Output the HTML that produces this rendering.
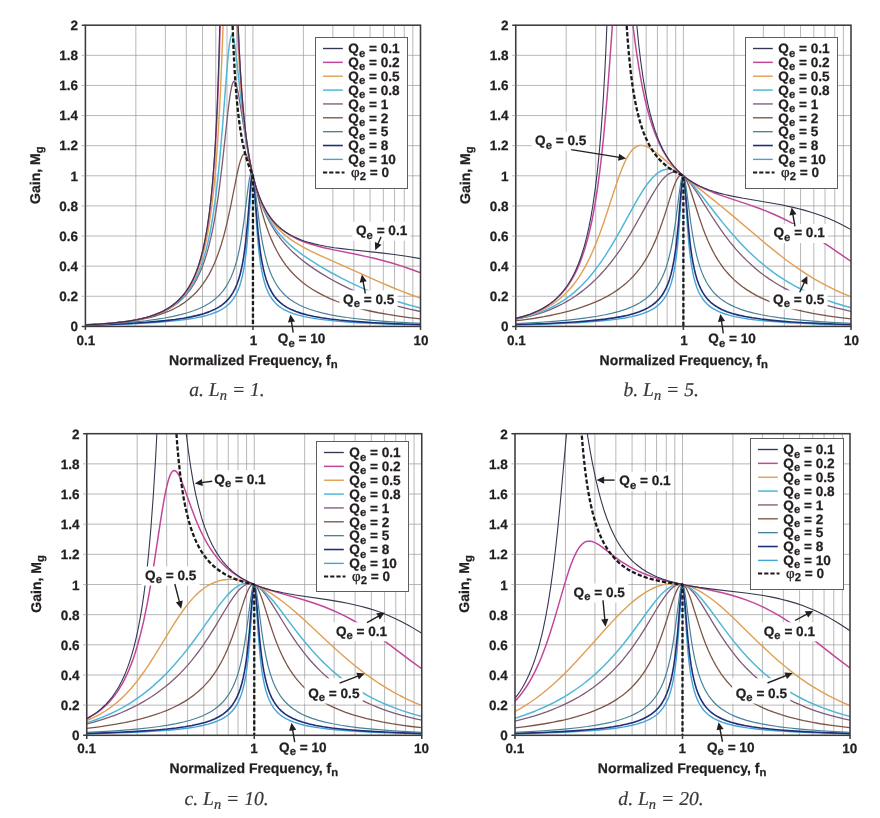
<!DOCTYPE html>
<html lang="en">
<head>
<meta charset="utf-8">
<title>LLC resonant converter gain curves</title>
<style>
html, body { margin: 0; padding: 0; background: #fff; }
body { width: 880px; height: 818px; overflow: hidden; }
svg { display: block; }
text { font-family: "Liberation Sans", Arial, Helvetica, sans-serif; fill: #231f20; text-rendering: geometricPrecision; }
.b { font-weight: bold; font-size: 13.6px; stroke: #231f20; stroke-width: 0.25px; }
.tk { font-size: 13.5px; }
.ti { font-size: 14px; }
.s { font-size: 11.3px; }
.phi { font-family: "Liberation Serif", "Times New Roman", serif; font-weight: normal; font-size: 15px; stroke-width: 0.35px; }
.cap { font-family: "Liberation Serif", "Times New Roman", serif; font-style: italic; font-size: 19.6px; fill: #383838; stroke: #383838; stroke-width: 0.2px; }
.cs { font-size: 14.5px; }
</style>
</head>
<body>
<svg width="880" height="818" viewBox="0 0 880 818">
<rect width="880" height="818" fill="#fff"/>
<g id="plot-a">
<clipPath id="clip-a"><rect x="85.4" y="25.2" width="335.1" height="301.2"/></clipPath>
<path d="M85.4 296.28H420.5M85.4 266.16H420.5M85.4 236.04H420.5M85.4 205.92H420.5M85.4 175.8H420.5M85.4 145.68H420.5M85.4 115.56H420.5M85.4 85.44H420.5M85.4 55.32H420.5M135.84 25.2V326.4M165.34 25.2V326.4M186.28 25.2V326.4M202.51 25.2V326.4M215.78 25.2V326.4M227 25.2V326.4M236.71 25.2V326.4M245.28 25.2V326.4M252.95 25.2V326.4M303.39 25.2V326.4M332.89 25.2V326.4M353.83 25.2V326.4M370.06 25.2V326.4M383.33 25.2V326.4M394.55 25.2V326.4M404.26 25.2V326.4M412.83 25.2V326.4" stroke="#9a9a9a" stroke-width="0.7" fill="none"/>
<g clip-path="url(#clip-a)" fill="none" stroke-linejoin="round">
<path d="M85.4 325.32L102.63 324.87L118.43 324.33L133.27 323.7L146.68 322.98L158.64 322.18L169.18 321.31L178.75 320.32L187.37 319.22L194.55 318.07L201.25 316.74L206.99 315.31L212.26 313.66L217.05 311.77L220.88 309.87L222.79 308.75L224.71 307.48L226.62 306.04L228.06 304.81L229.49 303.44L230.93 301.9L233.32 298.86L235.56 295.29L237.47 291.48L239.18 287.24L240.79 282.27L242.19 276.84L243.5 270.58L244.51 264.7L245.41 258.38L246.32 250.86L247.12 242.94L248.64 224.13L251.24 184.53L251.94 177.36L252.25 175.7L252.55 175.05L252.65 175.06L252.85 175.44L253.15 176.85L253.85 183.56L256.57 224.6L257.37 235.12L258.18 244.16L258.98 251.88L259.89 259.21L260.79 265.37L261.8 271.11L263.1 277.24L264.51 282.56L266.12 287.44L267.93 291.83L269.94 295.72L272.1 299.05L274.49 302.03L277.36 304.88L278.8 306.08L280.72 307.5L282.63 308.74L284.55 309.85L288.37 311.71L293.16 313.58L298.43 315.19L304.17 316.6L310.87 317.91L318.53 319.11L327.15 320.17L336.73 321.12L347.26 321.95L359.22 322.71L372.63 323.38L386.99 323.95L420.5 324.88" stroke="#45a4d6" stroke-width="1.4"/>
<path d="M85.4 325.2L101.68 324.69L116.52 324.09L130.4 323.37L143.32 322.53L154.81 321.62L165.35 320.59L174.92 319.44L183.54 318.17L190.72 316.88L197.42 315.39L203.64 313.68L208.91 311.88L213.7 309.86L218 307.59L221.83 305.07L225.18 302.33L228.06 299.42L230.45 296.45L232.84 292.82L235.06 288.67L236.97 284.23L238.67 279.36L240.28 273.73L241.69 267.71L242.8 262.05L243.8 256.01L244.81 248.94L245.71 241.54L247.52 223.25L250.74 183.79L251.54 177.17L251.94 175.32L252.15 174.82L252.35 174.61L252.55 174.71L252.75 175.11L253.15 176.77L253.96 183.08L254.76 192.11L257.27 223.48L258.22 233.55L259.17 242.42L260.09 249.74L260.99 256L262 261.99L263.1 267.61L264.51 273.6L266.12 279.19L267.83 284.03L269.74 288.45L271.75 292.24L274.01 295.74L275.45 297.63L276.89 299.31L279.76 302.18L283.11 304.89L286.94 307.37L291.25 309.61L296.03 311.6L301.3 313.37L307.52 315.06L314.23 316.51L321.41 317.78L330.02 319.01L339.12 320.07L349.65 321.05L361.14 321.92L374.06 322.71L387.95 323.38L403.27 323.98L420.5 324.5" stroke="#1f2f78" stroke-width="1.6"/>
<path d="M85.4 325.03L99.28 324.46L112.21 323.76L124.18 322.91L135.19 321.93L145.72 320.78L155.77 319.44L164.87 317.97L173 316.4L180.66 314.63L187.37 312.78L193.59 310.73L199.33 308.46L204.12 306.19L208.91 303.48L213.22 300.52L217.05 297.34L220.4 293.98L223.27 290.55L226.14 286.44L228.54 282.35L230.93 277.46L232.84 272.82L234.65 267.68L236.36 261.98L237.87 256.13L239.38 249.34L240.79 242L242.09 234.21L244.1 220.19L247.82 189.91L249.23 179.97L249.83 176.75L250.44 174.38L250.94 173.17L251.24 172.8L251.51 172.7L251.84 172.88L252.15 173.33L252.75 175.02L253.35 177.66L254.06 181.74L255.26 190.49L258.98 220.37L260.29 229.58L261.6 237.75L262.8 244.42L264.01 250.34L265.32 255.99L266.62 260.96L268.33 266.6L270.24 271.96L272.25 276.74L274.49 281.23L276.89 285.28L279.76 289.34L282.63 292.73L285.98 296.04L289.81 299.18L294.12 302.09L298.91 304.76L303.69 306.98L308.96 309.02L315.18 311.04L321.88 312.85L329.54 314.56L337.68 316.07L346.78 317.48L356.83 318.77L367.36 319.89L378.85 320.9L391.78 321.84L405.66 322.65L420.5 323.36" stroke="#47829a" stroke-width="1.2"/>
<path d="M85.4 324.89L97.37 324.31L107.9 323.6L117.47 322.76L126.57 321.72L134.71 320.54L142.37 319.16L149.55 317.56L156.25 315.75L162.47 313.71L168.22 311.47L173.48 309.05L178.75 306.2L183.54 303.16L188.32 299.6L192.63 295.85L196.46 291.99L199.81 288.13L203.16 283.73L206.04 279.44L208.91 274.59L211.78 269.08L214.17 263.9L216.57 258.09L218.96 251.56L221.35 244.21L223.27 237.67L225.18 230.49L227.1 222.65L230.45 207.33L236.87 175.18L238.11 169.49L239.28 164.69L240.69 159.87L241.99 156.55L242.7 155.3L243.3 154.53L243.9 154.07L244.51 153.9L245.01 153.99L245.61 154.36L246.21 155.01L246.82 155.93L248.02 158.49L249.33 162.22L251.64 170.52L258.38 198.46L260.29 205.9L262.2 212.86L264.41 220.27L266.62 227.01L268.93 233.39L271.35 239.39L274.01 245.33L276.89 251.02L279.76 256.08L282.63 260.61L285.98 265.32L289.33 269.51L293.16 273.77L296.99 277.56L301.78 281.75L306.57 285.43L311.83 289.01L317.58 292.43L323.8 295.7L330.02 298.57L337.2 301.49L344.38 304.04L352.04 306.44L360.18 308.68L368.8 310.75L378.37 312.75L387.95 314.47L398.48 316.11L409.01 317.52L420.5 318.83" stroke="#7d5547" stroke-width="1.3"/>
<path d="M85.4 324.87L97.85 324.23L108.86 323.45L118.91 322.47L128.01 321.3L136.14 319.93L143.8 318.29L150.98 316.35L157.21 314.24L162.95 311.86L165.82 310.47L168.7 308.94L173.48 305.98L175.88 304.28L178.27 302.41L180.66 300.36L182.58 298.56L186.41 294.48L188.32 292.16L190.24 289.63L193.59 284.62L196.46 279.6L199.33 273.77L201.73 268.17L204.12 261.75L206.51 254.35L208.43 247.6L210.82 237.92L212.74 229.01L214.65 218.9L216.09 210.42L218 197.8L219.44 187.29L222.31 163.55L228.06 110.59L229.97 95.82L230.93 90.04L231.89 85.63L232.37 83.98L233.05 82.32L233.55 81.61L233.85 81.39L234.15 81.33L234.55 81.48L234.96 81.89L235.36 82.55L235.86 83.71L236.76 86.64L237.77 90.97L238.78 96.17L239.98 103.21L245.77 139.65L248.64 155.71L250.64 165.6L252.65 174.54L254.76 182.93L256.87 190.41L259.28 197.99L261.9 205.21L264.61 211.81L267.53 218.05L270.66 223.96L274.01 229.53L277.84 235.14L281.67 240.11L284.07 242.95L286.94 246.14L289.81 249.11L292.68 251.9L298.91 257.43L302.26 260.17L306.09 263.13L313.75 268.6L321.88 273.88L330.98 279.25L340.08 284.14L349.17 288.6L358.75 292.86L368.32 296.7L377.89 300.15L387.95 303.38L398.48 306.37L409.49 309.11L420.5 311.49" stroke="#7f5b79" stroke-width="1.3"/>
<path d="M85.4 324.87L98.8 324.17L110.29 323.31L120.82 322.23L129.92 320.97L138.54 319.41L146.2 317.61L150.03 316.52L153.38 315.45L159.6 313.11L162.95 311.61L165.82 310.18L168.7 308.58L171.09 307.1L173.48 305.49L175.88 303.7L178.27 301.74L180.66 299.56L183.06 297.14L184.97 295.01L186.89 292.68L188.8 290.12L192.15 285.03L194.07 281.69L195.5 278.96L198.38 272.78L201.25 265.48L203.64 258.31L206.04 249.94L207.95 242.18L209.87 233.27L211.78 223.01L213.7 211.12L215.61 197.29L217.05 185.45L218.48 172.19L219.92 157.42L222.31 129.41L226.62 73.24L227.58 61.87L228.54 51.94L229.49 43.96L230.45 38.38L230.93 36.58L231.41 35.46L231.89 35.03L232.37 35.27L232.84 36.15L233.35 37.72L234.15 41.47L234.96 46.5L236.76 61.05L241.69 106.24L244.2 126.49L245.91 138.56L247.62 149.31L249.43 159.4L251.34 168.78L253.55 178.25L255.82 186.67L258.28 194.56L260.89 201.82L263.71 208.58L266.72 214.84L270.04 220.8L273.53 226.25L275.45 228.94L277.84 232.05L280.24 234.93L283.11 238.12L285.98 241.06L288.85 243.79L291.73 246.35L295.08 249.15L298.43 251.78L302.26 254.62L310.4 260.19L319.97 266.16L330.5 272.23L341.51 278.13L353 283.84L364.49 289.09L375.5 293.68L386.51 297.83L397.52 301.54L409.01 304.96L420.5 307.96" stroke="#50b7d8" stroke-width="1.5"/>
<path d="M85.4 324.87L99.76 324.1L112.21 323.13L123.22 321.9L133.27 320.36L137.58 319.54L141.89 318.59L146.2 317.5L150.03 316.39L153.86 315.13L157.21 313.87L160.56 312.45L163.91 310.85L167.26 309.02L170.13 307.25L173 305.27L175.4 303.42L177.79 301.37L180.19 299.09L182.58 296.55L184.49 294.3L186.41 291.82L188.32 289.09L190.24 286.07L192.15 282.71L194.07 278.97L195.5 275.88L197.42 271.3L198.86 267.48L200.29 263.28L201.73 258.64L204.12 249.75L206.51 239.05L208.43 228.83L210.34 216.72L212.26 202.19L214.17 184.57L215.61 168.74L217.05 150.13L218 135.86L219.44 111.15L220.4 92.15L221.35 70.91L222.79 34.65L226.14 -62.51L226.62 -65.16L232.84 -65.16L236.46 15.29L237.87 41.89L239.28 64.84L240.89 87.08L242.6 106.8L244.51 125.02L246.52 140.8L248.33 152.66L250.24 163.29L252.35 173.25L254.56 182.08L256.97 190.24L259.58 197.71L262.4 204.52L265.52 210.88L268.75 216.46L272.25 221.6L275.93 226.2L277.84 228.33L280.24 230.79L282.63 233.04L285.02 235.12L289.81 238.85L295.08 242.43L301.3 246.15L305.61 248.49L309.92 250.69L320.45 255.69L379.81 282.1L391.3 287.01L401.35 291.11L410.93 294.77L420.5 298.17" stroke="#e09f52" stroke-width="1.4"/>
<path d="M85.4 324.86L99.76 324.1L112.21 323.12L123.22 321.89L128.48 321.14L133.27 320.34L137.58 319.51L141.89 318.55L146.2 317.45L150.03 316.32L153.86 315.04L157.21 313.76L160.56 312.32L163.43 310.92L166.78 309.09L169.65 307.31L172.53 305.31L174.92 303.44L177.31 301.37L179.71 299.05L182.1 296.46L184.02 294.16L185.93 291.62L187.84 288.81L189.76 285.7L191.67 282.22L193.59 278.33L195.03 275.09L196.46 271.54L197.9 267.63L199.33 263.31L200.77 258.51L203.16 249.23L205.56 237.91L207.47 226.92L209.39 213.65L211.3 197.33L212.74 182.44L214.17 164.51L215.61 142.57L216.57 125.03L217.53 104.46L218.48 80.06L219.44 50.72L220.4 14.88L221.83 -56.18L222.31 -65.16L235.16 -65.16L236.26 -25.35L237.15 2.24L238.17 28.53L239.28 52.13L240.5 73.75L241.89 93.88L243.38 111.55L245.01 127.54L246.82 142.09L248.83 155.33L251.04 167.23L252.25 172.8L253.55 178.24L254.86 183.15L256.27 187.89L257.74 192.37L259.28 196.6L260.89 200.58L262.6 204.37L264.41 207.98L266.22 211.23L267.83 213.86L269.54 216.41L271.25 218.75L273.06 221.01L274.97 223.2L276.89 225.2L278.8 227.03L281.19 229.12L283.59 231.01L285.98 232.72L290.77 235.71L296.03 238.46L301.78 240.96L306.57 242.73L311.35 244.29L316.62 245.81L322.84 247.41L333.85 249.87L355.87 254.33L365.45 256.36L375.02 258.57L383.64 260.76L392.73 263.32L401.83 266.15L410.93 269.25L420.5 272.75" stroke="#c2479a" stroke-width="1.5"/>
<path d="M85.4 324.86L99.76 324.1L112.21 323.12L123.22 321.89L128.48 321.14L133.27 320.34L137.58 319.5L141.89 318.55L146.2 317.44L150.03 316.31L153.86 315.03L157.21 313.74L160.56 312.3L163.43 310.9L166.78 309.06L169.65 307.27L172.53 305.26L174.92 303.39L177.31 301.3L179.71 298.98L182.1 296.37L184.02 294.05L185.93 291.5L187.84 288.67L189.76 285.53L191.67 282.02L193.59 278.09L195.03 274.81L196.46 271.22L197.9 267.26L199.33 262.87L200.77 258L203.16 248.56L205.56 237.01L207.47 225.75L209.39 212.09L210.82 199.79L212.26 185.19L213.7 167.59L215.13 145.99L216.09 128.66L217.05 108.26L218 83.92L218.96 54.41L219.92 17.9L220.88 -28.33L221.35 -56.38L221.83 -65.16L235.36 -65.16L235.46 -64.03L236.36 -28.05L237.27 1.26L238.27 28.01L239.38 52.17L240.58 73.81L241.99 94.44L243.5 112.45L245.21 129.08L247.02 143.43L249.12 157.01L251.34 168.67L252.55 174.11L253.85 179.41L255.26 184.54L256.67 189.15L258.18 193.59L259.69 197.59L261.39 201.66L263.1 205.32L264.92 208.81L266.83 212.12L268.63 214.92L270.44 217.47L272.45 220.04L274.49 222.4L276.41 224.41L278.8 226.69L281.19 228.73L283.59 230.57L285.98 232.24L288.85 234.03L291.73 235.64L294.6 237.08L297.47 238.37L300.82 239.72L304.17 240.93L307.52 242L313.27 243.6L319.49 245.05L326.67 246.44L334.33 247.67L341.51 248.65L349.17 249.57L380.77 252.89L394.17 254.47L408.05 256.44L420.5 258.64" stroke="#34374f" stroke-width="1.1"/>
<path d="M231.38 -18.19L232.51 23L233.22 41.88L233.97 58.19L234.83 73.52L235.81 87.78L236.84 100.15L238 111.68L239.3 122.36L240.74 132.19L242.33 141.19L244.09 149.42L246 156.9L248.08 163.69L250.43 170.08L252.95 175.8L252.95 326.4" stroke="#1a1a1a" stroke-width="2.3" stroke-dasharray="4.2 2.1"/>
</g>
<rect x="352.4" y="221.7" width="58.1" height="19" fill="#fff"/>
<rect x="339.5" y="290.3" width="58.1" height="19" fill="#fff"/>
<rect x="274.2" y="329.9" width="54.1" height="19" fill="#fff"/>
<rect x="315.5" y="37.5" width="92" height="151" fill="#fff" stroke="#5e5e5e" stroke-width="1"/>
<line x1="323" y1="48.5" x2="342.8" y2="48.5" stroke="#34374f" stroke-width="1.35"/>
<text x="348.3" y="53.2" text-anchor="start" class="b">Q<tspan class="s" dy="3.4">e</tspan><tspan dy="-3.4"> = 0.1</tspan></text>
<line x1="323" y1="62.36" x2="342.8" y2="62.36" stroke="#c2479a" stroke-width="1.5"/>
<text x="348.3" y="67.06" text-anchor="start" class="b">Q<tspan class="s" dy="3.4">e</tspan><tspan dy="-3.4"> = 0.2</tspan></text>
<line x1="323" y1="76.22" x2="342.8" y2="76.22" stroke="#e09f52" stroke-width="1.4"/>
<text x="348.3" y="80.92" text-anchor="start" class="b">Q<tspan class="s" dy="3.4">e</tspan><tspan dy="-3.4"> = 0.5</tspan></text>
<line x1="323" y1="90.08" x2="342.8" y2="90.08" stroke="#50b7d8" stroke-width="1.5"/>
<text x="348.3" y="94.78" text-anchor="start" class="b">Q<tspan class="s" dy="3.4">e</tspan><tspan dy="-3.4"> = 0.8</tspan></text>
<line x1="323" y1="103.94" x2="342.8" y2="103.94" stroke="#7f5b79" stroke-width="1.35"/>
<text x="348.3" y="108.64" text-anchor="start" class="b">Q<tspan class="s" dy="3.4">e</tspan><tspan dy="-3.4"> = 1</tspan></text>
<line x1="323" y1="117.8" x2="342.8" y2="117.8" stroke="#7d5547" stroke-width="1.35"/>
<text x="348.3" y="122.5" text-anchor="start" class="b">Q<tspan class="s" dy="3.4">e</tspan><tspan dy="-3.4"> = 2</tspan></text>
<line x1="323" y1="131.66" x2="342.8" y2="131.66" stroke="#47829a" stroke-width="1.35"/>
<text x="348.3" y="136.36" text-anchor="start" class="b">Q<tspan class="s" dy="3.4">e</tspan><tspan dy="-3.4"> = 5</tspan></text>
<line x1="323" y1="145.52" x2="342.8" y2="145.52" stroke="#1f2f78" stroke-width="1.6"/>
<text x="348.3" y="150.22" text-anchor="start" class="b">Q<tspan class="s" dy="3.4">e</tspan><tspan dy="-3.4"> = 8</tspan></text>
<line x1="323" y1="159.38" x2="342.8" y2="159.38" stroke="#45a4d6" stroke-width="1.4"/>
<text x="348.3" y="164.08" text-anchor="start" class="b">Q<tspan class="s" dy="3.4">e</tspan><tspan dy="-3.4"> = 10</tspan></text>
<line x1="323" y1="172.44" x2="344.5" y2="172.44" stroke="#1a1a1a" stroke-width="2" stroke-dasharray="4.2 2"/>
<text x="351" y="176.84" class="b"><tspan class="phi">φ</tspan><tspan class="s" dy="3">2</tspan><tspan dy="-3"> = 0</tspan></text>
<rect x="85.4" y="25.2" width="335.1" height="301.2" fill="none" stroke="#3c3c3e" stroke-width="1.55"/>
<path d="M85.4 326.4V330M252.95 326.4V330M420.5 326.4V330M81.8 326.4H85.4M81.8 25.2H85.4" stroke="#3c3c3e" stroke-width="1.5" fill="none"/>
<path d="M81.8 296.28H85.4M81.8 266.16H85.4M81.8 236.04H85.4M81.8 205.92H85.4M81.8 175.8H85.4M81.8 145.68H85.4M81.8 115.56H85.4M81.8 85.44H85.4M81.8 55.32H85.4" stroke="#9a9a9a" stroke-width="0.7" fill="none"/>
<text x="78.1" y="331.1" text-anchor="end" class="b tk">0</text>
<text x="78.1" y="300.98" text-anchor="end" class="b tk">0.2</text>
<text x="78.1" y="270.86" text-anchor="end" class="b tk">0.4</text>
<text x="78.1" y="240.74" text-anchor="end" class="b tk">0.6</text>
<text x="78.1" y="210.62" text-anchor="end" class="b tk">0.8</text>
<text x="78.1" y="180.5" text-anchor="end" class="b tk">1</text>
<text x="78.1" y="150.38" text-anchor="end" class="b tk">1.2</text>
<text x="78.1" y="120.26" text-anchor="end" class="b tk">1.4</text>
<text x="78.1" y="90.14" text-anchor="end" class="b tk">1.6</text>
<text x="78.1" y="60.02" text-anchor="end" class="b tk">1.8</text>
<text x="78.1" y="29.9" text-anchor="end" class="b tk">2</text>
<text x="86" y="345.4" text-anchor="middle" class="b tk">0.1</text>
<text x="253.55" y="345.4" text-anchor="middle" class="b tk">1</text>
<text x="421.1" y="345.4" text-anchor="middle" class="b tk">10</text>
<text x="253.35" y="364.6" text-anchor="middle" class="b ti">Normalized Frequency, f<tspan class="s" dy="3">n</tspan></text>
<text transform="translate(39.8 175.2) rotate(-90)" text-anchor="middle" class="b ti">Gain, M<tspan class="s" dy="3">g</tspan></text>
<text x="356" y="235.1" text-anchor="start" class="b">Q<tspan class="s" dy="3.4">e</tspan><tspan dy="-3.4"> = 0.1</tspan></text>
<line x1="381.1" y1="236.7" x2="377.81" y2="244.28" stroke="#231f20" stroke-width="1.4"/><polygon points="375.18,250.33 374.91,241.93 381.51,244.8" fill="#231f20"/>
<text x="343.1" y="303.7" text-anchor="start" class="b">Q<tspan class="s" dy="3.4">e</tspan><tspan dy="-3.4"> = 0.5</tspan></text>
<line x1="365.3" y1="293.5" x2="363.03" y2="281.01" stroke="#231f20" stroke-width="1.4"/><polygon points="361.86,274.51 366.76,281.35 359.67,282.63" fill="#231f20"/>
<text x="277.8" y="343.3" text-anchor="start" class="b">Q<tspan class="s" dy="3.4">e</tspan><tspan dy="-3.4"> = 10</tspan></text>
<line x1="293.2" y1="332.7" x2="291.39" y2="321.03" stroke="#231f20" stroke-width="1.4"/><polygon points="290.38,314.51 295.1,321.47 287.99,322.57" fill="#231f20"/>
<text x="227" y="395.9" text-anchor="middle" class="cap">a. L<tspan class="cs" dy="4">n</tspan><tspan dy="-4"> = 1.</tspan></text>
</g>
<g id="plot-b">
<clipPath id="clip-b"><rect x="515.75" y="25.2" width="335.25" height="301.2"/></clipPath>
<path d="M515.75 296.28H851M515.75 266.16H851M515.75 236.04H851M515.75 205.92H851M515.75 175.8H851M515.75 145.68H851M515.75 115.56H851M515.75 85.44H851M515.75 55.32H851M566.21 25.2V326.4M595.73 25.2V326.4M616.67 25.2V326.4M632.91 25.2V326.4M646.19 25.2V326.4M657.41 25.2V326.4M667.13 25.2V326.4M675.7 25.2V326.4M683.38 25.2V326.4M733.84 25.2V326.4M763.35 25.2V326.4M784.3 25.2V326.4M800.54 25.2V326.4M813.81 25.2V326.4M825.03 25.2V326.4M834.76 25.2V326.4M843.33 25.2V326.4" stroke="#9a9a9a" stroke-width="0.7" fill="none"/>
<g clip-path="url(#clip-b)" fill="none" stroke-linejoin="round">
<path d="M515.75 324.91L549.75 323.95L564.12 323.37L577.53 322.68L589.5 321.92L600.04 321.07L609.62 320.1L617.76 319.08L624.95 317.96L631.65 316.65L637.4 315.24L642.67 313.63L647.46 311.77L651.29 309.91L653.2 308.81L655.12 307.57L657.03 306.15L658.47 304.95L661.34 302.12L663.76 299.12L665.98 295.7L667.99 291.8L669.8 287.39L671.4 282.5L672.84 277.04L674.12 270.98L675.13 265.21L676.03 259.02L676.94 251.65L677.74 243.91L679.35 224.32L681.97 184.97L682.67 177.98L682.97 176.38L683.27 175.77L683.38 175.8L683.58 176.19L683.88 177.62L684.58 184.29L687.3 224.95L688.91 244.38L689.71 252.05L690.56 258.92L691.52 265.45L692.47 270.94L693.73 276.9L695.14 282.29L696.75 287.23L698.46 291.45L700.37 295.24L702.58 298.75L704.93 301.73L706.36 303.28L707.8 304.65L709.24 305.88L711.15 307.33L713.07 308.6L714.98 309.72L718.82 311.62L723.61 313.5L728.87 315.14L734.62 316.57L741.33 317.89L748.51 319.02L757.13 320.11L766.71 321.07L777.25 321.91L789.22 322.68L802.63 323.36L817 323.94L833.28 324.45L851 324.88" stroke="#45a4d6" stroke-width="1.4"/>
<path d="M515.75 324.55L532.51 324.03L547.84 323.43L561.73 322.75L574.66 321.96L586.15 321.09L596.21 320.15L605.31 319.11L613.93 317.88L621.11 316.63L627.82 315.19L634.05 313.53L639.31 311.78L644.1 309.81L648.41 307.6L652.24 305.16L655.6 302.5L658.47 299.69L659.91 298.04L661.34 296.2L663.66 292.7L665.67 288.98L667.58 284.68L669.4 279.65L671 274.15L672.41 268.28L673.52 262.77L674.52 256.9L675.53 250.05L676.44 242.88L677.44 233.63L678.35 224.05L680.86 193.14L681.67 184.23L682.47 177.98L682.87 176.3L683.07 175.88L683.27 175.75L683.48 175.92L683.68 176.38L684.08 178.13L684.88 184.49L688.16 223.92L689.11 233.89L690.01 242.24L690.92 249.49L691.92 256.43L692.95 262.49L694.04 267.93L695.44 273.86L697.05 279.41L698.76 284.23L700.67 288.62L702.69 292.39L704.93 295.84L706.36 297.73L707.8 299.4L710.67 302.27L714.03 304.97L717.86 307.44L722.17 309.68L726.96 311.67L732.23 313.44L738.45 315.11L745.16 316.56L752.34 317.83L760.96 319.05L770.06 320.1L780.6 321.09L792.09 321.95L805.02 322.73L818.91 323.4L834.24 323.99L851 324.5" stroke="#1f2f78" stroke-width="1.6"/>
<path d="M515.75 323.56L530.6 322.81L544.01 321.99L556.46 321.06L567.95 320.03L578.49 318.9L588.07 317.66L597.17 316.25L605.31 314.73L612.49 313.13L619.2 311.34L625.42 309.35L630.69 307.32L635.48 305.12L640.27 302.48L644.58 299.6L648.41 296.49L651.77 293.21L654.64 289.86L657.51 285.84L659.91 281.85L662.3 277.09L664.17 272.71L666.08 267.44L667.79 261.91L669.29 256.24L670.8 249.69L672.21 242.63L673.52 235.15L675.63 221.05L679.35 192.21L680.76 182.78L681.36 179.69L681.97 177.41L682.57 176.05L682.87 175.74L683.07 175.68L683.27 175.73L683.58 176.02L684.18 177.36L684.78 179.61L685.39 182.68L686.79 192.07L690.56 221.21L692.63 235.02L694.04 243.04L695.44 250.04L696.95 256.54L698.46 262.16L700.17 267.65L702.08 272.88L703.97 277.28L706.36 282L708.76 285.96L711.63 289.94L714.51 293.28L717.86 296.53L721.69 299.62L726 302.49L730.79 305.12L735.58 307.3L740.85 309.32L747.07 311.31L753.78 313.09L761.44 314.77L769.58 316.26L778.68 317.65L788.26 318.86L798.8 319.97L810.29 320.97L822.74 321.86L836.15 322.65L851 323.36" stroke="#47829a" stroke-width="1.2"/>
<path d="M515.75 320.88L525.33 319.67L534.91 318.25L544.01 316.68L552.63 314.99L560.77 313.16L568.91 311.1L576.1 309.04L583.28 306.72L589.5 304.46L595.73 301.92L601.48 299.29L607.23 296.33L612.49 293.26L617.28 290.12L622.07 286.59L626.38 283L629.74 279.89L633.09 276.45L636.44 272.65L639.31 269.04L642.19 265.06L645.06 260.67L647.93 255.8L650.33 251.34L652.72 246.46L655.12 241.14L657.51 235.33L659.91 229.02L664.17 216.61L671.91 192.1L673.52 187.44L674.93 183.76L676.67 179.91L677.54 178.34L678.35 177.14L679.15 176.2L679.96 175.52L680.76 175.12L681.46 175.01L682.17 175.11L682.97 175.5L683.78 176.17L684.58 177.1L685.39 178.29L686.25 179.82L688 183.65L689.41 187.3L691.04 191.98L698.7 216.03L702.89 228.16L705.41 234.76L707.8 240.52L710.19 245.8L712.59 250.63L714.98 255.06L717.86 259.89L720.73 264.24L724.08 268.79L726.96 272.31L730.31 276.02L733.66 279.36L737.49 282.8L741.8 286.24L746.59 289.63L751.86 292.92L757.13 295.82L762.88 298.61L768.62 301.08L774.85 303.46L781.56 305.72L788.74 307.85L796.4 309.85L804.54 311.72L812.69 313.35L821.31 314.86L830.88 316.33L840.46 317.6L851 318.81" stroke="#7d5547" stroke-width="1.3"/>
<path d="M515.75 319.31L521.5 318.18L527.24 316.88L532.99 315.39L538.26 313.83L543.53 312.08L548.32 310.3L553.11 308.33L557.9 306.15L562.68 303.73L567 301.35L571.31 298.76L575.62 295.94L579.93 292.88L584.24 289.56L588.55 285.97L592.38 282.54L596.21 278.88L599.56 275.46L603.39 271.31L606.75 267.45L610.58 262.77L613.93 258.43L617.28 253.85L620.64 249.04L625.9 240.99L631.17 232.36L637.4 221.52L647.93 202.39L651.77 195.62L656.08 188.49L659.91 182.87L661.82 180.39L663.86 178.06L665.67 176.28L667.48 174.79L669.29 173.61L671 172.8L672.81 172.27L674.52 172.08L676.13 172.18L677.74 172.55L679.35 173.17L681.06 174.11L682.77 175.32L684.48 176.76L686.29 178.54L688.2 180.67L691.92 185.41L696.25 191.65L700.27 197.9L711.15 215.26L717.86 225.47L723.61 233.65L728.87 240.62L732.23 244.79L736.06 249.31L739.89 253.57L743.72 257.58L747.55 261.36L751.86 265.34L755.69 268.67L760 272.17L764.31 275.45L769.1 278.85L773.89 282L779.16 285.22L783.95 287.93L789.22 290.69L794.49 293.25L800.23 295.82L805.98 298.18L811.73 300.36L817.95 302.53L824.18 304.51L830.41 306.32L837.11 308.1L843.82 309.72L851 311.3" stroke="#7f5b79" stroke-width="1.3"/>
<path d="M515.75 319.02L521.02 317.89L525.81 316.73L530.6 315.41L535.39 313.91L539.7 312.4L544.01 310.72L548.32 308.84L552.15 306.99L555.98 304.96L559.81 302.73L563.64 300.29L567 297.96L570.83 295.07L574.18 292.33L577.53 289.38L580.88 286.2L584.24 282.79L587.11 279.67L590.46 275.8L593.34 272.28L599.08 264.67L601.96 260.57L605.31 255.55L610.58 247.17L616.33 237.4L621.59 228.01L633.09 207.03L637.88 198.62L643.14 190.05L647.46 183.82L650.33 180.17L652.72 177.48L655.6 174.7L657.99 172.8L660.39 171.29L662.78 170.17L665.37 169.41L667.89 169.11L670.2 169.21L672.51 169.66L674.83 170.43L677.24 171.57L679.75 173.09L682.27 174.91L684.88 177.09L687.7 179.73L692.23 184.49L697.35 190.45L702.89 197.32L716.42 214.7L723.13 223.11L730.31 231.73L737.49 239.87L741.8 244.49L745.64 248.43L749.47 252.21L753.78 256.27L757.61 259.72L761.92 263.41L765.75 266.54L770.06 269.88L774.37 273.05L778.68 276.06L782.99 278.9L787.78 281.87L792.57 284.67L797.36 287.29L802.15 289.75L806.94 292.07L812.21 294.44L817.48 296.66L822.74 298.72L828.01 300.65L833.28 302.44L839.03 304.25L844.77 305.92L851 307.6" stroke="#50b7d8" stroke-width="1.5"/>
<path d="M515.75 318.65L521.02 317.41L525.81 316.1L530.6 314.59L534.91 313.03L539.22 311.27L543.05 309.49L546.88 307.5L550.71 305.26L554.54 302.73L557.9 300.26L561.25 297.52L564.12 294.93L567.47 291.59L570.35 288.43L573.22 284.97L576.1 281.18L578.97 277.03L581.36 273.27L583.76 269.22L586.15 264.87L588.55 260.18L590.94 255.16L595.25 245.23L599.08 235.43L603.39 223.41L607.23 212L614.89 188.44L618.72 177.26L622.07 168.39L624.95 161.75L626.86 157.92L628.78 154.6L630.69 151.8L632.61 149.54L634.52 147.79L636.44 146.54L638.36 145.74L639.31 145.51L640.75 145.33L642.19 145.37L644.1 145.69L645.54 146.12L647.46 146.92L649.37 147.92L651.29 149.09L653.68 150.74L656.08 152.55L661.34 156.9L674.42 168.25L682.27 174.88L690.82 181.87L713.07 199.63L724.56 208.98L734.62 217.37L758.09 237.32L768.62 246.12L781.08 256.07L786.82 260.45L792.09 264.31L799.75 269.67L806.94 274.39L814.12 278.8L821.31 282.91L828.49 286.72L835.67 290.24L843.34 293.68L851 296.83" stroke="#e09f52" stroke-width="1.4"/>
<path d="M515.75 318.43L522.93 316.57L529.64 314.41L535.87 311.94L538.74 310.62L541.61 309.16L544.49 307.55L546.88 306.09L551.67 302.75L554.06 300.85L556.46 298.77L558.85 296.49L560.77 294.51L564.6 290.06L566.52 287.56L568.43 284.85L571.78 279.54L575.14 273.36L577.05 269.37L578.49 266.13L581.36 258.92L584.24 250.57L586.63 242.55L588.55 235.33L590.46 227.27L592.38 218.25L594.29 208.12L596.21 196.7L597.65 187.17L599.56 173.01L601 161.18L602.44 148.18L603.87 133.95L606.75 101.5L609.14 70.52L614.41 -3.05L616.33 -26.07L617.76 -39.53L618.72 -46.14L619.68 -50.64L620.16 -52.08L620.64 -52.98L621.11 -53.35L621.59 -53.21L622.07 -52.56L622.55 -51.46L623.03 -49.91L623.99 -45.65L624.95 -40.06L625.9 -33.43L627.34 -22.17L633.09 26.6L635 41.46L636.44 51.8L638.36 64.47L640.27 75.92L642.19 86.23L644.58 97.68L646.98 107.71L649.85 118.17L652.72 127.17L655.6 134.97L658.95 142.79L662.3 149.5L665.77 155.47L669.5 160.98L672.36 164.69L675.33 168.13L678.45 171.36L681.77 174.43L685.29 177.33L688.91 179.99L692.83 182.57L696.95 184.98L700.57 186.9L704.45 188.77L708.76 190.67L713.07 192.43L723.13 196.11L748.03 204.37L759.52 208.45L765.75 210.87L771.98 213.46L778.2 216.24L783.95 219L790.18 222.2L796.88 225.89L803.59 229.81L810.29 233.95L823.22 242.41L851 261.32" stroke="#c2479a" stroke-width="1.5"/>
<path d="M515.75 318.4L523.41 316.38L530.12 314.16L533.47 312.85L536.34 311.61L539.22 310.25L542.09 308.74L544.96 307.07L547.36 305.54L549.75 303.88L552.15 302.05L554.54 300.06L556.94 297.87L559.33 295.47L561.25 293.37L563.16 291.1L565.08 288.63L567 285.96L568.91 283.04L572.26 277.27L574.18 273.54L575.62 270.49L578.49 263.69L581.36 255.76L584.24 246.41L586.63 237.29L589.03 226.65L590.94 216.81L592.86 205.51L594.77 192.45L596.69 177.21L598.13 164.03L599.56 149.04L601 131.86L602.44 112.05L603.39 97.09L604.83 71.52L605.79 52.01L607.7 5.7L610.1 -65.16L630.69 -65.16L632.13 -39.22L633.57 -16.06L635 3.92L636.92 26.54L638.83 45.49L640.75 61.54L643.14 78.39L645.54 92.44L647.93 104.3L649.37 110.56L650.81 116.26L653.68 126.27L655.12 130.67L657.03 136.02L658.95 140.85L660.87 145.21L662.78 149.18L664.57 152.55L666.61 156.08L668.79 159.5L671 162.65L673.42 165.76L676.94 169.77L680.66 173.43L684.68 176.86L688.91 179.95L693.43 182.79L698.36 185.43L703.49 187.77L709.24 190L714.03 191.6L719.29 193.14L724.56 194.5L730.79 195.91L743.24 198.32L769.58 202.74L781.08 204.83L793.05 207.36L798.8 208.75L804.07 210.15L810.29 211.98L816.52 214.01L822.26 216.09L828.01 218.36L833.76 220.83L839.51 223.52L845.25 226.41L851 229.5" stroke="#34374f" stroke-width="1.1"/>
<path d="M624.47 -18.12L625.73 9.18L627.08 31.6L628.68 51.99L630.37 68.91L631.33 76.95L632.49 85.45L633.51 92.06L634.73 99.09L635.98 105.46L637.45 112.05L638.94 117.98L640.47 123.34L642.03 128.19L643.82 133.12L645.64 137.56L647.69 141.98L649.77 145.95L652.09 149.84L654.43 153.31L657.01 156.67L659.61 159.66L662.44 162.52L665.5 165.23L668.56 167.62L672.07 169.99L675.57 172.06L679.27 173.97L683.38 175.8L683.38 326.4" stroke="#1a1a1a" stroke-width="2.3" stroke-dasharray="4.2 2.1"/>
</g>
<rect x="531.5" y="131.8" width="58.1" height="19" fill="#fff"/>
<rect x="769.9" y="224" width="58.1" height="19" fill="#fff"/>
<rect x="769.5" y="290.3" width="58.1" height="19" fill="#fff"/>
<rect x="704.7" y="329.8" width="54.1" height="19" fill="#fff"/>
<rect x="745.5" y="37.5" width="92" height="151" fill="#fff" stroke="#5e5e5e" stroke-width="1"/>
<line x1="753" y1="48.5" x2="772.8" y2="48.5" stroke="#34374f" stroke-width="1.35"/>
<text x="778.3" y="53.2" text-anchor="start" class="b">Q<tspan class="s" dy="3.4">e</tspan><tspan dy="-3.4"> = 0.1</tspan></text>
<line x1="753" y1="62.36" x2="772.8" y2="62.36" stroke="#c2479a" stroke-width="1.5"/>
<text x="778.3" y="67.06" text-anchor="start" class="b">Q<tspan class="s" dy="3.4">e</tspan><tspan dy="-3.4"> = 0.2</tspan></text>
<line x1="753" y1="76.22" x2="772.8" y2="76.22" stroke="#e09f52" stroke-width="1.4"/>
<text x="778.3" y="80.92" text-anchor="start" class="b">Q<tspan class="s" dy="3.4">e</tspan><tspan dy="-3.4"> = 0.5</tspan></text>
<line x1="753" y1="90.08" x2="772.8" y2="90.08" stroke="#50b7d8" stroke-width="1.5"/>
<text x="778.3" y="94.78" text-anchor="start" class="b">Q<tspan class="s" dy="3.4">e</tspan><tspan dy="-3.4"> = 0.8</tspan></text>
<line x1="753" y1="103.94" x2="772.8" y2="103.94" stroke="#7f5b79" stroke-width="1.35"/>
<text x="778.3" y="108.64" text-anchor="start" class="b">Q<tspan class="s" dy="3.4">e</tspan><tspan dy="-3.4"> = 1</tspan></text>
<line x1="753" y1="117.8" x2="772.8" y2="117.8" stroke="#7d5547" stroke-width="1.35"/>
<text x="778.3" y="122.5" text-anchor="start" class="b">Q<tspan class="s" dy="3.4">e</tspan><tspan dy="-3.4"> = 2</tspan></text>
<line x1="753" y1="131.66" x2="772.8" y2="131.66" stroke="#47829a" stroke-width="1.35"/>
<text x="778.3" y="136.36" text-anchor="start" class="b">Q<tspan class="s" dy="3.4">e</tspan><tspan dy="-3.4"> = 5</tspan></text>
<line x1="753" y1="145.52" x2="772.8" y2="145.52" stroke="#1f2f78" stroke-width="1.6"/>
<text x="778.3" y="150.22" text-anchor="start" class="b">Q<tspan class="s" dy="3.4">e</tspan><tspan dy="-3.4"> = 8</tspan></text>
<line x1="753" y1="159.38" x2="772.8" y2="159.38" stroke="#45a4d6" stroke-width="1.4"/>
<text x="778.3" y="164.08" text-anchor="start" class="b">Q<tspan class="s" dy="3.4">e</tspan><tspan dy="-3.4"> = 10</tspan></text>
<line x1="753" y1="172.44" x2="774.5" y2="172.44" stroke="#1a1a1a" stroke-width="2" stroke-dasharray="4.2 2"/>
<text x="781" y="176.84" class="b"><tspan class="phi">φ</tspan><tspan class="s" dy="3">2</tspan><tspan dy="-3"> = 0</tspan></text>
<rect x="515.75" y="25.2" width="335.25" height="301.2" fill="none" stroke="#3c3c3e" stroke-width="1.55"/>
<path d="M515.75 326.4V330M683.38 326.4V330M851 326.4V330M512.15 326.4H515.75M512.15 25.2H515.75" stroke="#3c3c3e" stroke-width="1.5" fill="none"/>
<path d="M512.15 296.28H515.75M512.15 266.16H515.75M512.15 236.04H515.75M512.15 205.92H515.75M512.15 175.8H515.75M512.15 145.68H515.75M512.15 115.56H515.75M512.15 85.44H515.75M512.15 55.32H515.75" stroke="#9a9a9a" stroke-width="0.7" fill="none"/>
<text x="508.45" y="331.1" text-anchor="end" class="b tk">0</text>
<text x="508.45" y="300.98" text-anchor="end" class="b tk">0.2</text>
<text x="508.45" y="270.86" text-anchor="end" class="b tk">0.4</text>
<text x="508.45" y="240.74" text-anchor="end" class="b tk">0.6</text>
<text x="508.45" y="210.62" text-anchor="end" class="b tk">0.8</text>
<text x="508.45" y="180.5" text-anchor="end" class="b tk">1</text>
<text x="508.45" y="150.38" text-anchor="end" class="b tk">1.2</text>
<text x="508.45" y="120.26" text-anchor="end" class="b tk">1.4</text>
<text x="508.45" y="90.14" text-anchor="end" class="b tk">1.6</text>
<text x="508.45" y="60.02" text-anchor="end" class="b tk">1.8</text>
<text x="508.45" y="29.9" text-anchor="end" class="b tk">2</text>
<text x="516.35" y="345.4" text-anchor="middle" class="b tk">0.1</text>
<text x="683.98" y="345.4" text-anchor="middle" class="b tk">1</text>
<text x="851.6" y="345.4" text-anchor="middle" class="b tk">10</text>
<text x="683.77" y="364.6" text-anchor="middle" class="b ti">Normalized Frequency, f<tspan class="s" dy="3">n</tspan></text>
<text transform="translate(470.15 175.2) rotate(-90)" text-anchor="middle" class="b ti">Gain, M<tspan class="s" dy="3">g</tspan></text>
<text x="535.1" y="145.2" text-anchor="start" class="b">Q<tspan class="s" dy="3.4">e</tspan><tspan dy="-3.4"> = 0.5</tspan></text>
<line x1="571.2" y1="149.6" x2="619.57" y2="157.38" stroke="#231f20" stroke-width="1.4"/><polygon points="626.09,158.43 618.01,160.77 619.16,153.67" fill="#231f20"/>
<text x="773.5" y="237.4" text-anchor="start" class="b">Q<tspan class="s" dy="3.4">e</tspan><tspan dy="-3.4"> = 0.1</tspan></text>
<line x1="795" y1="226.4" x2="792.81" y2="214.01" stroke="#231f20" stroke-width="1.4"/><polygon points="791.66,207.51 796.53,214.37 789.44,215.62" fill="#231f20"/>
<text x="773.1" y="303.7" text-anchor="start" class="b">Q<tspan class="s" dy="3.4">e</tspan><tspan dy="-3.4"> = 0.5</tspan></text>
<line x1="799.7" y1="292.2" x2="804.53" y2="281.95" stroke="#231f20" stroke-width="1.4"/><polygon points="807.34,275.98 807.36,284.39 800.85,281.32" fill="#231f20"/>
<text x="708.3" y="343.2" text-anchor="start" class="b">Q<tspan class="s" dy="3.4">e</tspan><tspan dy="-3.4"> = 10</tspan></text>
<line x1="723.3" y1="333.4" x2="721.36" y2="320.44" stroke="#231f20" stroke-width="1.4"/><polygon points="720.38,313.91 725.07,320.89 717.95,321.96" fill="#231f20"/>
<text x="661.2" y="395.9" text-anchor="middle" class="cap">b. L<tspan class="cs" dy="4">n</tspan><tspan dy="-4"> = 5.</tspan></text>
</g>
<g id="plot-c">
<clipPath id="clip-c"><rect x="86.75" y="433.7" width="335" height="301.6"/></clipPath>
<path d="M86.75 705.14H421.75M86.75 674.98H421.75M86.75 644.82H421.75M86.75 614.66H421.75M86.75 584.5H421.75M86.75 554.34H421.75M86.75 524.18H421.75M86.75 494.02H421.75M86.75 463.86H421.75M137.17 433.7V735.3M166.67 433.7V735.3M187.6 433.7V735.3M203.83 433.7V735.3M217.09 433.7V735.3M228.3 433.7V735.3M238.02 433.7V735.3M246.59 433.7V735.3M254.25 433.7V735.3M304.67 433.7V735.3M334.17 433.7V735.3M355.1 433.7V735.3M371.33 433.7V735.3M384.59 433.7V735.3M395.8 433.7V735.3M405.52 433.7V735.3M414.09 433.7V735.3" stroke="#9a9a9a" stroke-width="0.7" fill="none"/>
<g clip-path="url(#clip-c)" fill="none" stroke-linejoin="round">
<path d="M86.75 733.78L104.46 733.35L120.73 732.83L135.09 732.26L148.49 731.57L160.45 730.81L170.98 729.96L180.55 728.99L188.69 727.97L195.86 726.85L202.56 725.54L208.31 724.14L213.57 722.52L218.36 720.67L222.19 718.81L224.1 717.71L226.01 716.47L227.93 715.06L229.36 713.86L232.24 711.03L234.65 708.04L236.86 704.63L238.87 700.74L240.68 696.35L242.29 691.48L243.72 686.04L245 680.01L246.01 674.27L246.91 668.12L247.82 660.8L248.62 653.1L250.23 633.62L252.94 592.92L253.65 586.29L253.95 584.89L254.15 584.52L254.25 584.5L254.55 585.14L254.85 586.77L255.56 593.82L258.17 633.23L259.78 652.81L260.58 660.55L261.43 667.48L262.39 674.07L263.34 679.59L264.6 685.6L266.01 691.02L267.62 696L269.33 700.23L271.23 704.05L273.45 707.58L275.79 710.57L277.22 712.12L278.66 713.5L280.09 714.73L282.01 716.18L283.92 717.46L285.84 718.58L289.66 720.49L294.45 722.38L299.71 724.02L305.46 725.45L312.16 726.78L319.34 727.91L327.95 729L337.52 729.96L348.05 730.81L360.01 731.57L373.41 732.26L387.77 732.83L404.04 733.34L421.75 733.78" stroke="#45a4d6" stroke-width="1.4"/>
<path d="M86.75 733.41L103.5 732.9L118.81 732.3L132.69 731.63L145.14 730.88L156.62 730.01L167.15 729.04L176.24 727.99L184.86 726.78L192.04 725.52L198.74 724.08L204.96 722.42L210.22 720.68L215.01 718.71L219.31 716.51L223.14 714.08L226.49 711.43L229.36 708.63L230.8 706.99L232.24 705.15L234.55 701.66L236.56 697.97L238.47 693.68L240.28 688.69L241.89 683.22L243.3 677.39L244.4 671.92L245.51 665.46L246.51 658.56L247.42 651.33L248.42 642.01L249.33 632.36L252.54 593.54L253.35 587.04L253.75 585.21L253.95 584.71L254.15 584.5L254.35 584.58L254.55 584.95L254.95 586.55L255.76 592.69L256.56 601.54L259.07 632.51L259.99 642.28L260.98 651.44L261.91 658.79L262.86 665.36L263.9 671.44L265 676.98L266.41 682.89L268.02 688.41L269.73 693.21L271.64 697.58L273.85 701.68L276.26 705.3L278.66 708.22L281.53 711.1L284.88 713.81L288.71 716.3L293.01 718.54L297.8 720.54L303.06 722.31L309.29 723.99L315.99 725.45L323.16 726.71L331.78 727.94L340.87 728.99L351.4 729.98L362.89 730.84L375.81 731.63L389.69 732.3L405 732.89L421.75 733.4" stroke="#1f2f78" stroke-width="1.6"/>
<path d="M86.75 732.3L101.59 731.58L114.99 730.78L127.43 729.87L138.91 728.86L149.44 727.74L159.01 726.52L168.11 725.12L176.24 723.61L183.42 722.02L190.12 720.24L196.34 718.26L201.61 716.24L206.39 714.06L211.18 711.44L215.49 708.58L219.31 705.49L222.66 702.24L225.54 698.92L228.41 694.95L230.8 690.99L233.19 686.28L235.11 681.83L237.02 676.59L238.77 670.95L240.37 664.94L241.81 658.69L243.24 651.49L244.6 643.69L246.61 630.24L250.42 600.7L251.84 591.28L252.44 588.25L253.04 586.04L253.65 584.77L253.95 584.5L254.15 584.47L254.45 584.64L254.75 585.06L255.36 586.65L256.06 589.62L256.76 593.61L257.97 602.07L261.79 631.61L263.09 640.47L264.5 648.93L265.71 655.33L266.91 661.01L268.22 666.46L269.53 671.26L271.33 677.02L273.34 682.42L275.31 686.9L277.7 691.5L280.09 695.37L282.96 699.27L285.84 702.54L289.19 705.74L293.01 708.78L297.32 711.6L302.11 714.19L306.89 716.35L312.16 718.34L318.38 720.31L325.08 722.07L332.74 723.75L340.87 725.23L349.96 726.6L359.54 727.8L370.06 728.9L381.55 729.9L393.99 730.79L407.39 731.57L421.75 732.25" stroke="#47829a" stroke-width="1.2"/>
<path d="M86.75 728.35L97.28 727.03L106.85 725.64L115.94 724.15L124.56 722.53L132.69 720.8L140.83 718.84L148.01 716.88L155.19 714.66L161.41 712.49L167.63 710.05L173.37 707.5L179.11 704.63L184.38 701.64L189.16 698.58L193.95 695.12L198.26 691.6L202.09 688.08L205.44 684.66L208.79 680.85L211.66 677.24L214.53 673.25L217.4 668.84L220.27 663.95L222.66 659.46L225.06 654.54L227.45 649.17L229.84 643.32L232.24 636.95L236.26 625.16L243.8 601.33L245.41 596.67L246.81 592.99L248.62 589.02L249.43 587.59L250.23 586.4L251.03 585.46L251.74 584.86L252.54 584.44L253.29 584.31L254.05 584.43L254.85 584.83L255.56 585.41L256.36 586.33L257.16 587.51L257.97 588.93L259.78 592.87L261.18 596.53L262.79 601.17L270.53 625.56L272.74 632.16L274.83 638.02L277.22 644.28L279.61 650.04L282.01 655.31L284.4 660.14L286.79 664.55L289.66 669.36L292.54 673.69L295.41 677.61L298.28 681.16L301.63 684.9L304.98 688.27L308.81 691.73L313.11 695.2L317.9 698.6L322.69 701.61L327.95 704.55L333.69 707.38L339.44 709.88L345.66 712.27L352.36 714.55L359.54 716.7L366.71 718.59L374.85 720.48L382.99 722.13L391.6 723.66L401.17 725.14L411.22 726.49L421.75 727.7" stroke="#7d5547" stroke-width="1.3"/>
<path d="M86.75 723.97L92.97 722.37L98.71 720.73L104.46 718.94L110.2 716.97L115.94 714.83L121.69 712.5L126.95 710.18L132.21 707.68L137.48 704.98L142.26 702.34L147.05 699.51L151.84 696.48L156.62 693.23L160.93 690.09L165.24 686.75L169.54 683.17L173.37 679.79L177.2 676.2L181.03 672.38L184.38 668.84L188.21 664.56L191.56 660.59L194.91 656.41L198.26 652.01L203.04 645.34L208.31 637.47L214.53 627.56L225.06 610L228.89 603.79L233.19 597.29L236.56 592.8L238.37 590.67L240.18 588.78L241.89 587.24L243.6 585.95L245.31 584.94L246.91 584.24L248.52 583.82L250.13 583.66L251.74 583.78L253.29 584.15L254.95 584.82L256.56 585.72L258.17 586.87L259.88 588.33L261.69 590.14L263.5 592.19L267.11 596.88L271.23 602.94L275.31 609.39L285.84 626.53L292.06 636.18L297.32 643.82L302.59 650.92L305.94 655.15L309.76 659.72L313.11 663.49L316.94 667.55L320.77 671.36L324.6 674.94L328.43 678.29L332.26 681.45L336.56 684.76L341.35 688.19L346.14 691.36L350.92 694.3L355.71 697.03L360.97 699.81L366.24 702.38L371.5 704.75L377.24 707.13L382.99 709.32L388.73 711.33L394.95 713.32L401.17 715.15L407.87 716.95L414.57 718.58L421.75 720.16" stroke="#7f5b79" stroke-width="1.3"/>
<path d="M86.75 722.64L91.54 721.15L95.84 719.69L100.63 717.91L104.94 716.18L109.24 714.31L113.55 712.29L117.86 710.12L121.69 708.07L125.99 705.6L129.82 703.27L134.13 700.48L137.96 697.85L141.79 695.08L145.61 692.16L149.44 689.07L153.27 685.83L157.1 682.43L160.93 678.85L168.11 671.67L175.29 663.84L182.46 655.37L188.69 647.51L194.91 639.22L201.13 630.58L213.09 613.57L218.36 606.33L223.14 600.16L227.45 595.13L230.32 592.14L232.71 589.92L235.36 587.78L237.87 586.09L240.28 584.81L242.59 583.91L245 583.32L247.32 583.11L249.53 583.22L251.84 583.68L254.15 584.46L256.46 585.56L258.87 587.03L261.28 588.8L263.8 590.93L266.41 593.43L270.63 597.97L275.31 603.57L280.57 610.31L293.01 626.86L299.24 634.93L305.94 643.23L312.64 651.02L319.81 658.76L323.64 662.62L327.47 666.31L331.3 669.82L335.13 673.16L338.96 676.34L343.26 679.73L347.57 682.92L351.88 685.94L356.19 688.78L360.49 691.46L364.8 693.98L369.59 696.62L374.37 699.09L379.16 701.4L383.94 703.56L389.21 705.78L393.99 707.66L399.26 709.6L404.52 711.39L410.26 713.21L416.01 714.89L421.75 716.44" stroke="#50b7d8" stroke-width="1.5"/>
<path d="M86.75 720.49L92.97 717.8L99.19 714.64L104.94 711.25L110.68 707.34L115.94 703.25L121.21 698.64L126.47 693.45L131.26 688.21L135.56 683.06L139.87 677.49L144.18 671.53L148.49 665.2L156.14 653.21L172.89 625.73L177.2 619L181.03 613.33L184.86 608L188.69 603.09L192.51 598.64L195.86 595.13L199.69 591.59L203.52 588.53L207.35 585.96L209.26 584.84L211.66 583.61L215.49 581.99L219.79 580.65L224.1 579.79L228.41 579.37L230.8 579.32L233.19 579.39L235.86 579.6L238.57 579.95L243.8 581.01L249.22 582.61L254.75 584.71L260.47 587.36L266.31 590.53L272.24 594.18L277.22 597.58L282.49 601.45L288.23 605.97L293.97 610.77L299.24 615.36L305.46 620.97L330.34 644.19L341.35 654.16L347.57 659.57L353.79 664.77L359.54 669.37L365.28 673.76L372.46 678.94L379.16 683.46L385.86 687.68L393.04 691.88L399.74 695.5L406.91 699.08L414.09 702.36L421.75 705.56" stroke="#e09f52" stroke-width="1.4"/>
<path d="M86.75 718.76L90.58 716.73L94.41 714.42L98.24 711.8L101.59 709.2L104.94 706.28L108.29 702.98L111.16 699.81L114.03 696.29L116.9 692.35L119.29 688.72L122.16 683.87L124.56 679.38L126.95 674.42L128.86 670.08L131.26 664.13L133.17 658.9L135.09 653.22L137 647.05L140.35 634.91L143.7 620.86L147.05 604.69L149.92 589.06L152.79 571.85L160.45 521.6L162.36 509.54L164.28 498.48L166.19 488.88L168.11 481.12L169.06 478.01L170.02 475.44L170.98 473.43L171.94 471.96L172.89 471.02L173.85 470.59L174.33 470.55L175.29 470.82L175.76 471.12L176.72 472L177.68 473.24L178.64 474.79L180.55 478.66L183.42 485.8L191.56 508.58L195.86 519.81L198.26 525.52L200.65 530.84L203.04 535.76L205.91 541.17L208.31 545.28L211.18 549.79L214.05 553.87L216.92 557.57L219.79 560.92L223.14 564.44L226.49 567.6L229.84 570.43L232.71 572.63L235.66 574.7L238.67 576.64L241.89 578.54L245.2 580.32L248.72 582.06L252.44 583.73L256.36 585.36L263.3 587.92L271.13 590.49L279.14 592.87L302.59 599.56L309.76 601.77L316.46 604L324.12 606.79L331.3 609.69L338.48 612.89L345.18 616.18L351.88 619.76L359.06 623.93L366.24 628.43L373.41 633.22L379.64 637.57L386.34 642.42L411.22 661.03L421.75 668.71" stroke="#c2479a" stroke-width="1.5"/>
<path d="M86.75 718.46L91.54 715.77L96.32 712.6L100.63 709.23L104.94 705.28L108.76 701.18L112.11 697.03L115.46 692.26L118.81 686.74L121.69 681.3L124.56 675.08L127.43 667.91L129.82 661.08L132.21 653.31L134.13 646.3L136.52 636.37L138.44 627.32L140.35 617.1L141.79 608.55L143.7 595.77L145.14 584.99L146.57 573.03L148.01 559.72L149.44 544.86L150.88 528.24L153.27 496L155.66 457.16L158.06 411.06L160.93 347.59L161.41 343.22L178.16 343.22L178.64 347.82L180.55 373.52L182.46 396.4L184.38 416.54L186.29 434.2L188.21 449.66L190.6 466.38L192.99 480.65L194.43 488.22L195.86 495.15L198.74 507.35L201.61 517.7L203.04 522.29L204.96 527.89L206.39 531.75L208.31 536.47L210.22 540.77L212.14 544.7L214.05 548.3L216.44 552.39L218.36 555.36L220.75 558.75L223.14 561.82L225.54 564.62L228.89 568.11L232.71 571.6L236.56 574.64L240.68 577.48L245.1 580.11L249.73 582.49L254.65 584.67L259.98 586.68L265.1 588.36L270.63 589.92L276.74 591.41L282.96 592.73L289.66 593.98L296.84 595.17L326.99 599.64L340.39 601.87L347.57 603.24L354.27 604.69L360.49 606.19L366.71 607.88L373.89 610.09L381.07 612.6L387.77 615.24L394.47 618.18L401.17 621.44L407.87 625.02L414.57 628.89L421.75 633.35" stroke="#34374f" stroke-width="1.1"/>
<path d="M173.95 389.78L175.44 418.83L177.05 442.31L178 453.46L178.97 463.51L179.98 472.59L181.23 482.37L182.52 491.11L183.84 498.96L185.21 506.02L186.84 513.4L188.51 519.98L190.46 526.65L192.46 532.56L194.5 537.81L196.57 542.49L198.94 547.16L201.34 551.3L204.04 555.35L207.03 559.25L210.05 562.65L213.36 565.88L216.68 568.67L220.28 571.3L224.14 573.74L228.27 575.96L232.91 578.1L237.77 579.98L242.84 581.64L248.34 583.15L254.25 584.5L254.25 735.3" stroke="#1a1a1a" stroke-width="2.3" stroke-dasharray="4.2 2.1"/>
</g>
<rect x="210.7" y="470.3" width="58.1" height="19" fill="#fff"/>
<rect x="141.5" y="566.5" width="58.1" height="19" fill="#fff"/>
<rect x="332.3" y="622.3" width="58.1" height="19" fill="#fff"/>
<rect x="304.6" y="678.3" width="58.1" height="25.3" fill="#fff"/>
<rect x="275.5" y="738.3" width="54.1" height="19" fill="#fff"/>
<rect x="316.5" y="441.5" width="92" height="150" fill="#fff" stroke="#5e5e5e" stroke-width="1"/>
<line x1="324" y1="452.5" x2="343.8" y2="452.5" stroke="#34374f" stroke-width="1.35"/>
<text x="349.3" y="457.2" text-anchor="start" class="b">Q<tspan class="s" dy="3.4">e</tspan><tspan dy="-3.4"> = 0.1</tspan></text>
<line x1="324" y1="466.36" x2="343.8" y2="466.36" stroke="#c2479a" stroke-width="1.5"/>
<text x="349.3" y="471.06" text-anchor="start" class="b">Q<tspan class="s" dy="3.4">e</tspan><tspan dy="-3.4"> = 0.2</tspan></text>
<line x1="324" y1="480.22" x2="343.8" y2="480.22" stroke="#e09f52" stroke-width="1.4"/>
<text x="349.3" y="484.92" text-anchor="start" class="b">Q<tspan class="s" dy="3.4">e</tspan><tspan dy="-3.4"> = 0.5</tspan></text>
<line x1="324" y1="494.08" x2="343.8" y2="494.08" stroke="#50b7d8" stroke-width="1.5"/>
<text x="349.3" y="498.78" text-anchor="start" class="b">Q<tspan class="s" dy="3.4">e</tspan><tspan dy="-3.4"> = 0.8</tspan></text>
<line x1="324" y1="507.94" x2="343.8" y2="507.94" stroke="#7f5b79" stroke-width="1.35"/>
<text x="349.3" y="512.64" text-anchor="start" class="b">Q<tspan class="s" dy="3.4">e</tspan><tspan dy="-3.4"> = 1</tspan></text>
<line x1="324" y1="521.8" x2="343.8" y2="521.8" stroke="#7d5547" stroke-width="1.35"/>
<text x="349.3" y="526.5" text-anchor="start" class="b">Q<tspan class="s" dy="3.4">e</tspan><tspan dy="-3.4"> = 2</tspan></text>
<line x1="324" y1="535.66" x2="343.8" y2="535.66" stroke="#47829a" stroke-width="1.35"/>
<text x="349.3" y="540.36" text-anchor="start" class="b">Q<tspan class="s" dy="3.4">e</tspan><tspan dy="-3.4"> = 5</tspan></text>
<line x1="324" y1="549.52" x2="343.8" y2="549.52" stroke="#1f2f78" stroke-width="1.6"/>
<text x="349.3" y="554.22" text-anchor="start" class="b">Q<tspan class="s" dy="3.4">e</tspan><tspan dy="-3.4"> = 8</tspan></text>
<line x1="324" y1="563.38" x2="343.8" y2="563.38" stroke="#45a4d6" stroke-width="1.4"/>
<text x="349.3" y="568.08" text-anchor="start" class="b">Q<tspan class="s" dy="3.4">e</tspan><tspan dy="-3.4"> = 10</tspan></text>
<line x1="324" y1="576.44" x2="345.5" y2="576.44" stroke="#1a1a1a" stroke-width="2" stroke-dasharray="4.2 2"/>
<text x="352" y="580.84" class="b"><tspan class="phi">φ</tspan><tspan class="s" dy="3">2</tspan><tspan dy="-3"> = 0</tspan></text>
<rect x="86.75" y="433.7" width="335" height="301.6" fill="none" stroke="#3c3c3e" stroke-width="1.55"/>
<path d="M86.75 735.3V738.9M254.25 735.3V738.9M421.75 735.3V738.9M83.15 735.3H86.75M83.15 433.7H86.75" stroke="#3c3c3e" stroke-width="1.5" fill="none"/>
<path d="M83.15 705.14H86.75M83.15 674.98H86.75M83.15 644.82H86.75M83.15 614.66H86.75M83.15 584.5H86.75M83.15 554.34H86.75M83.15 524.18H86.75M83.15 494.02H86.75M83.15 463.86H86.75" stroke="#9a9a9a" stroke-width="0.7" fill="none"/>
<text x="79.45" y="740.3" text-anchor="end" class="b tk">0</text>
<text x="79.45" y="710.14" text-anchor="end" class="b tk">0.2</text>
<text x="79.45" y="679.98" text-anchor="end" class="b tk">0.4</text>
<text x="79.45" y="649.82" text-anchor="end" class="b tk">0.6</text>
<text x="79.45" y="619.66" text-anchor="end" class="b tk">0.8</text>
<text x="79.45" y="589.5" text-anchor="end" class="b tk">1</text>
<text x="79.45" y="559.34" text-anchor="end" class="b tk">1.2</text>
<text x="79.45" y="529.18" text-anchor="end" class="b tk">1.4</text>
<text x="79.45" y="499.02" text-anchor="end" class="b tk">1.6</text>
<text x="79.45" y="468.86" text-anchor="end" class="b tk">1.8</text>
<text x="79.45" y="438.7" text-anchor="end" class="b tk">2</text>
<text x="86.55" y="753.4" text-anchor="middle" class="b tk">0.1</text>
<text x="254.05" y="753.4" text-anchor="middle" class="b tk">1</text>
<text x="421.55" y="753.4" text-anchor="middle" class="b tk">10</text>
<text x="253.85" y="772.6" text-anchor="middle" class="b ti">Normalized Frequency, f<tspan class="s" dy="3">n</tspan></text>
<text transform="translate(41.15 583.9) rotate(-90)" text-anchor="middle" class="b ti">Gain, M<tspan class="s" dy="3">g</tspan></text>
<text x="214.3" y="483.7" text-anchor="start" class="b">Q<tspan class="s" dy="3.4">e</tspan><tspan dy="-3.4"> = 0.1</tspan></text>
<line x1="212.2" y1="481.2" x2="201.35" y2="482.57" stroke="#231f20" stroke-width="1.4"/><polygon points="194.81,483.4 201.89,478.88 202.8,486.02" fill="#231f20"/>
<text x="145.1" y="579.9" text-anchor="start" class="b">Q<tspan class="s" dy="3.4">e</tspan><tspan dy="-3.4"> = 0.5</tspan></text>
<line x1="174.8" y1="584" x2="179.55" y2="602.38" stroke="#231f20" stroke-width="1.4"/><polygon points="181.2,608.77 175.81,602.32 182.78,600.52" fill="#231f20"/>
<text x="335.9" y="635.7" text-anchor="start" class="b">Q<tspan class="s" dy="3.4">e</tspan><tspan dy="-3.4"> = 0.1</tspan></text>
<line x1="367" y1="622.6" x2="378.96" y2="615.77" stroke="#231f20" stroke-width="1.4"/><polygon points="384.69,612.5 379.88,619.4 376.31,613.14" fill="#231f20"/>
<text x="308.2" y="698" text-anchor="start" class="b">Q<tspan class="s" dy="3.4">e</tspan><tspan dy="-3.4"> = 0.5</tspan></text>
<line x1="339.6" y1="683.1" x2="358.49" y2="675.79" stroke="#231f20" stroke-width="1.4"/><polygon points="364.65,673.41 358.86,679.51 356.26,672.8" fill="#231f20"/>
<text x="279.1" y="751.7" text-anchor="start" class="b">Q<tspan class="s" dy="3.4">e</tspan><tspan dy="-3.4"> = 10</tspan></text>
<line x1="294.7" y1="742.1" x2="292.56" y2="729.32" stroke="#231f20" stroke-width="1.4"/><polygon points="291.47,722.81 296.27,729.71 289.17,730.9" fill="#231f20"/>
<text x="226.6" y="804.6" text-anchor="middle" class="cap">c. L<tspan class="cs" dy="4">n</tspan><tspan dy="-4"> = 10.</tspan></text>
</g>
<g id="plot-d">
<clipPath id="clip-d"><rect x="515" y="433.7" width="335" height="301.6"/></clipPath>
<path d="M515 705.14H850M515 674.98H850M515 644.82H850M515 614.66H850M515 584.5H850M515 554.34H850M515 524.18H850M515 494.02H850M515 463.86H850M565.42 433.7V735.3M594.92 433.7V735.3M615.85 433.7V735.3M632.08 433.7V735.3M645.34 433.7V735.3M656.55 433.7V735.3M666.27 433.7V735.3M674.84 433.7V735.3M682.5 433.7V735.3M732.92 433.7V735.3M762.42 433.7V735.3M783.35 433.7V735.3M799.58 433.7V735.3M812.84 433.7V735.3M824.05 433.7V735.3M833.77 433.7V735.3M842.34 433.7V735.3" stroke="#9a9a9a" stroke-width="0.7" fill="none"/>
<g clip-path="url(#clip-d)" fill="none" stroke-linejoin="round">
<path d="M515 733.78L532.71 733.35L548.98 732.83L563.34 732.25L576.74 731.57L588.7 730.81L599.23 729.96L608.8 729L616.94 727.97L624.11 726.85L630.81 725.55L636.56 724.14L641.82 722.53L646.61 720.68L650.44 718.82L652.35 717.72L654.26 716.48L656.18 715.07L657.61 713.88L660.49 711.05L662.9 708.07L665.11 704.66L667.12 700.78L668.93 696.4L670.54 691.55L671.97 686.13L673.25 680.12L674.26 674.39L675.16 668.26L676.07 660.97L676.87 653.3L678.48 633.89L681.19 593.15L681.9 586.41L682.2 584.95L682.4 584.54L682.5 584.5L682.8 585.08L683.1 586.65L683.81 593.6L686.42 632.99L688.03 652.64L688.83 660.4L689.74 667.79L690.64 673.99L691.65 679.78L692.95 685.96L694.36 691.31L695.9 696.05L697.68 700.42L699.59 704.2L701.8 707.7L704.04 710.56L705.47 712.11L706.91 713.49L708.34 714.72L710.26 716.18L712.17 717.45L714.09 718.58L717.91 720.48L722.7 722.38L727.96 724.02L733.71 725.45L740.41 726.77L747.59 727.91L756.2 729L765.77 729.96L776.3 730.81L788.26 731.57L801.66 732.25L816.02 732.83L832.29 733.34L850 733.78" stroke="#45a4d6" stroke-width="1.4"/>
<path d="M515 733.4L531.75 732.89L547.06 732.3L560.94 731.63L573.39 730.87L584.87 730.01L595.4 729.04L604.49 728L613.11 726.78L620.29 725.53L626.99 724.09L633.21 722.44L638.47 720.69L643.26 718.73L647.56 716.53L651.39 714.1L654.74 711.46L657.61 708.66L659.05 707.03L660.49 705.19L662.8 701.72L664.81 698.03L666.72 693.76L668.53 688.79L670.14 683.34L671.55 677.53L672.65 672.08L673.76 665.66L674.76 658.79L675.67 651.59L676.67 642.31L677.58 632.71L680.11 601.5L680.89 592.85L681.7 586.64L682.1 585L682.3 584.61L682.5 584.5L682.7 584.69L682.9 585.17L683.3 586.96L684.11 593.4L687.32 632.21L688.24 642.02L689.23 651.22L690.16 658.6L691.14 665.38L692.25 671.85L693.35 677.33L694.76 683.18L696.38 688.68L698.18 693.65L700.09 697.94L702.2 701.81L704.51 705.27L705.95 707.09L707.39 708.72L710.26 711.51L713.61 714.14L717.44 716.57L721.74 718.76L726.53 720.71L731.79 722.45L738.01 724.11L744.71 725.54L751.89 726.79L760.51 728L769.6 729.04L780.13 730.02L791.61 730.88L804.06 731.63L817.94 732.3L833.25 732.89L850 733.4" stroke="#1f2f78" stroke-width="1.6"/>
<path d="M515 732.26L529.84 731.55L543.24 730.76L555.68 729.86L567.16 728.85L577.69 727.74L587.26 726.52L596.36 725.12L604.49 723.62L611.67 722.04L618.37 720.27L624.59 718.29L629.86 716.28L634.64 714.11L639.43 711.5L643.74 708.64L647.56 705.58L650.91 702.34L653.79 699.03L656.66 695.08L659.05 691.15L661.44 686.47L663.4 681.92L665.31 676.72L667.12 670.9L668.63 665.24L670.14 658.7L671.55 651.65L672.93 643.72L674.96 630.09L678.68 601.21L680.11 591.61L680.69 588.61L681.29 586.29L681.9 584.89L682.2 584.57L682.4 584.49L682.7 584.6L682.98 584.92L683.5 586.12L684.11 588.36L684.71 591.41L686.12 600.8L689.94 630.42L691.95 643.85L693.35 651.89L694.76 658.91L696.27 665.42L697.81 671.19L699.59 676.85L701.6 682.29L703.56 686.78L705.95 691.41L708.34 695.3L711.21 699.21L714.09 702.49L717.44 705.7L721.26 708.75L725.57 711.58L730.36 714.18L735.14 716.34L740.41 718.34L746.63 720.31L753.33 722.07L760.51 723.65L768.64 725.14L777.74 726.53L787.31 727.75L797.84 728.86L809.32 729.86L821.76 730.76L835.16 731.55L850 732.25" stroke="#47829a" stroke-width="1.2"/>
<path d="M515 727.83L525.53 726.58L535.1 725.26L544.67 723.75L553.29 722.18L561.42 720.51L569.56 718.59L576.74 716.67L583.91 714.49L590.14 712.35L596.36 709.94L602.1 707.43L607.84 704.58L613.11 701.63L617.89 698.59L622.68 695.16L626.99 691.67L630.81 688.18L634.16 684.78L637.51 680.99L640.39 677.4L643.26 673.43L646.13 669.04L649 664.17L651.39 659.69L653.79 654.79L656.18 649.44L658.57 643.59L660.96 637.23L665.01 625.37L672.55 601.48L674.16 596.81L675.57 593.12L677.37 589.14L678.19 587.69L678.98 586.52L679.79 585.58L680.49 584.99L681.29 584.58L682.02 584.45L682.8 584.58L683.5 584.93L684.31 585.6L685.11 586.54L685.92 587.73L686.72 589.17L688.43 592.91L689.84 596.57L691.44 601.22L699.25 625.92L701.49 632.62L703.56 638.42L705.95 644.68L708.34 650.43L710.74 655.7L713.13 660.51L715.52 664.91L718.39 669.71L721.26 674.03L724.14 677.93L727.01 681.47L730.36 685.19L733.71 688.55L737.54 691.99L741.84 695.44L746.63 698.83L751.41 701.82L756.68 704.74L762.42 707.55L768.16 710.04L774.39 712.42L781.09 714.68L788.26 716.82L795.44 718.7L803.58 720.57L811.71 722.22L820.33 723.74L829.9 725.21L839.47 726.48L850 727.69" stroke="#7d5547" stroke-width="1.3"/>
<path d="M515 721.15L521.7 719.48L528.4 717.65L534.62 715.8L540.84 713.79L546.59 711.77L552.33 709.59L558.07 707.23L563.34 704.89L568.6 702.36L573.86 699.63L578.65 696.96L583.44 694.08L588.22 690.98L592.53 687.99L596.84 684.78L601.14 681.33L604.97 678.06L608.8 674.58L612.63 670.86L615.98 667.41L619.81 663.21L623.16 659.31L626.51 655.19L629.86 650.84L634.64 644.23L639.91 636.41L645.65 627.3L656.18 609.79L660.01 603.6L664.01 597.58L667.53 592.91L669.33 590.81L671.04 589.06L672.75 587.55L674.36 586.38L675.97 585.45L677.48 584.83L679.08 584.43L680.59 584.3L682.1 584.43L683.71 584.83L685.21 585.45L686.81 586.37L688.43 587.55L690.04 588.96L691.75 590.7L693.51 592.72L697.07 597.41L701.09 603.42L704.99 609.7L715.04 626.34L721.26 636.17L726.53 643.94L731.79 651.15L735.14 655.43L738.49 659.49L741.84 663.32L745.67 667.45L749.5 671.31L753.33 674.93L757.16 678.33L760.99 681.51L765.29 684.85L769.6 687.96L774.39 691.18L779.17 694.15L783.96 696.91L789.22 699.71L794.49 702.3L799.75 704.68L805.49 707.08L811.24 709.27L816.98 711.29L823.2 713.3L829.42 715.13L836.12 716.93L842.82 718.57L850 720.15" stroke="#7f5b79" stroke-width="1.3"/>
<path d="M515 718.26L525.53 714.76L535.58 710.93L545.15 706.78L549.94 704.5L554.72 702.08L559.51 699.5L563.81 697.04L568.12 694.43L572.43 691.67L576.74 688.75L580.56 686.01L584.87 682.76L588.7 679.71L592.53 676.5L596.36 673.12L603.54 666.31L610.71 658.85L617.41 651.28L623.64 643.73L629.86 635.71L635.6 627.97L647.56 611.45L652.35 605.06L657.14 599.09L660.96 594.79L663.51 592.24L665.92 590.09L668.23 588.3L670.54 586.8L672.75 585.67L674.96 584.85L677.17 584.35L679.38 584.18L681.54 584.33L683.71 584.8L685.85 585.56L688.03 586.64L690.24 588.02L692.55 589.75L694.96 591.85L697.47 594.31L701.49 598.75L705.95 604.22L710.74 610.5L722.7 626.83L728.92 635.11L735.62 643.59L741.84 650.98L749.02 658.88L752.85 662.81L756.68 666.55L760.51 670.11L764.34 673.48L768.16 676.69L771.99 679.73L775.82 682.61L780.13 685.67L784.44 688.55L788.74 691.27L793.05 693.82L797.84 696.49L802.62 698.98L807.41 701.31L812.19 703.49L816.98 705.53L822.24 707.62L827.51 709.56L832.77 711.36L838.51 713.19L844.26 714.87L850 716.42" stroke="#50b7d8" stroke-width="1.5"/>
<path d="M515 711.49L520.26 708.59L525.53 705.42L530.79 701.99L536.06 698.27L541.32 694.29L546.59 690.03L551.85 685.5L557.11 680.72L561.42 676.62L566.21 671.9L576.26 661.44L585.35 651.5L606.41 627.92L615.98 617.64L621.24 612.28L626.03 607.68L630.34 603.77L634.64 600.14L639.91 596.1L644.69 592.87L649.48 590.07L654.26 587.75L659.05 585.92L663.51 584.68L665.82 584.21L668.13 583.87L672.65 583.56L676.77 583.68L680.99 584.21L685.21 585.14L689.43 586.46L693.76 588.2L698.18 590.36L702.6 592.88L707.39 595.99L711.21 598.74L715.52 602.07L719.83 605.63L724.61 609.81L734.66 619.17L758.11 642.13L769.12 652.55L775.34 658.18L781.56 663.58L787.31 668.33L793.05 672.86L799.75 677.84L806.93 682.82L813.63 687.14L820.81 691.42L827.99 695.36L835.16 698.97L842.34 702.28L850 705.5" stroke="#e09f52" stroke-width="1.4"/>
<path d="M515 701.17L518.83 696.91L522.18 692.7L525.53 688.01L528.88 682.77L532.23 676.91L535.1 671.35L538.45 664.19L541.32 657.44L543.71 651.35L545.63 646.18L549.94 633.57L554.72 618.15L563.81 586.89L567.16 575.9L569.08 570.04L570.99 564.59L572.91 559.65L574.34 556.3L576.26 552.35L577.69 549.8L579.13 547.59L581.04 545.19L582.48 543.78L584.39 542.4L586.31 541.54L588.22 541.15L590.14 541.17L592.05 541.54L594.44 542.4L596.84 543.62L599.71 545.41L602.58 547.45L613.11 555.57L617.89 559.11L621.72 561.76L625.55 564.23L630.81 567.31L636.08 570.06L641.82 572.7L647.56 575L652.83 576.87L658.09 578.54L663.84 580.16L670.04 581.73L681.9 584.37L704.04 588.8L713.13 590.71L722.22 592.82L730.84 595.08L739.93 597.82L748.06 600.66L756.2 603.92L764.34 607.63L771.99 611.57L779.65 615.94L787.79 621.05L795.92 626.58L802.62 631.42L809.8 636.83L837.56 658.57L850 668.01" stroke="#c2479a" stroke-width="1.5"/>
<path d="M515 698.27L517.39 695.15L519.79 691.71L522.18 687.92L524.57 683.73L526.96 679.08L528.88 674.99L530.79 670.52L532.71 665.64L534.62 660.3L536.54 654.43L538.45 647.98L539.89 642.71L541.8 635.05L543.24 628.78L546.11 614.68L548.5 601.11L550.89 585.64L553.29 568L555.68 547.99L557.59 530.2L559.99 505.83L567.16 426.69L568.6 412.79L569.56 404.57L570.99 394.22L571.95 388.83L572.43 386.62L573.39 383.21L573.86 382.01L574.34 381.14L574.82 380.6L575.3 380.39L575.78 380.48L576.26 380.87L576.74 381.54L577.69 383.67L578.65 386.72L580.09 392.72L581.52 399.98L582.96 408.08L589.66 448.07L591.57 458.61L593.49 468.45L595.88 479.72L598.75 491.79L601.14 500.71L604.01 510.21L606.89 518.54L610.24 526.99L613.59 534.28L615.5 538L617.41 541.44L619.33 544.61L621.24 547.54L625.07 552.78L626.99 555.12L629.38 557.82L631.77 560.29L634.16 562.55L637.99 565.78L642.3 568.94L647.09 571.95L651.87 574.53L657.14 576.94L662.6 579.06L668.62 581.03L675.06 582.8L680.49 584.07L686.22 585.24L692.45 586.34L699.18 587.38L712.17 589.08L745.67 592.98L754.76 594.21L763.38 595.57L771.99 597.15L780.13 598.91L787.79 600.85L795.44 603.11L802.62 605.55L809.32 608.14L816.02 611.05L822.72 614.29L829.42 617.86L836.12 621.76L842.82 625.96L850 630.78" stroke="#34374f" stroke-width="1.1"/>
<path d="M579.13 391.65L579.96 407.73L580.83 422.01L581.74 434.76L582.67 446.19L583.89 458.89L585.15 470.11L586.46 480.05L587.81 488.92L589.2 496.85L590.92 505.31L592.69 512.79L594.5 519.43L596.66 526.26L598.87 532.26L601.12 537.55L603.73 542.86L606.39 547.49L609.41 552.03L612.47 555.96L615.89 559.74L619.66 563.3L623.45 566.33L627.58 569.14L632.03 571.71L636.79 574.02L641.84 576.08L647.48 578L653.34 579.64L659.72 581.11L666.86 582.43L674.38 583.55L682.5 584.5L682.5 735.3" stroke="#1a1a1a" stroke-width="2.3" stroke-dasharray="4.2 2.1"/>
</g>
<rect x="615.7" y="471.9" width="58.1" height="19" fill="#fff"/>
<rect x="570" y="583.5" width="58.1" height="19" fill="#fff"/>
<rect x="760.15" y="622.35" width="58.1" height="19" fill="#fff"/>
<rect x="732.15" y="678.3" width="58.1" height="25.3" fill="#fff"/>
<rect x="703.4" y="738.6" width="54.1" height="19" fill="#fff"/>
<rect x="750.5" y="438.5" width="93" height="151" fill="#fff" stroke="#5e5e5e" stroke-width="1"/>
<line x1="758" y1="449.5" x2="777.8" y2="449.5" stroke="#34374f" stroke-width="1.35"/>
<text x="783.3" y="454.2" text-anchor="start" class="b">Q<tspan class="s" dy="3.4">e</tspan><tspan dy="-3.4"> = 0.1</tspan></text>
<line x1="758" y1="463.36" x2="777.8" y2="463.36" stroke="#c2479a" stroke-width="1.5"/>
<text x="783.3" y="468.06" text-anchor="start" class="b">Q<tspan class="s" dy="3.4">e</tspan><tspan dy="-3.4"> = 0.2</tspan></text>
<line x1="758" y1="477.22" x2="777.8" y2="477.22" stroke="#e09f52" stroke-width="1.4"/>
<text x="783.3" y="481.92" text-anchor="start" class="b">Q<tspan class="s" dy="3.4">e</tspan><tspan dy="-3.4"> = 0.5</tspan></text>
<line x1="758" y1="491.08" x2="777.8" y2="491.08" stroke="#50b7d8" stroke-width="1.5"/>
<text x="783.3" y="495.78" text-anchor="start" class="b">Q<tspan class="s" dy="3.4">e</tspan><tspan dy="-3.4"> = 0.8</tspan></text>
<line x1="758" y1="504.94" x2="777.8" y2="504.94" stroke="#7f5b79" stroke-width="1.35"/>
<text x="783.3" y="509.64" text-anchor="start" class="b">Q<tspan class="s" dy="3.4">e</tspan><tspan dy="-3.4"> = 1</tspan></text>
<line x1="758" y1="518.8" x2="777.8" y2="518.8" stroke="#7d5547" stroke-width="1.35"/>
<text x="783.3" y="523.5" text-anchor="start" class="b">Q<tspan class="s" dy="3.4">e</tspan><tspan dy="-3.4"> = 2</tspan></text>
<line x1="758" y1="532.66" x2="777.8" y2="532.66" stroke="#47829a" stroke-width="1.35"/>
<text x="783.3" y="537.36" text-anchor="start" class="b">Q<tspan class="s" dy="3.4">e</tspan><tspan dy="-3.4"> = 5</tspan></text>
<line x1="758" y1="546.52" x2="777.8" y2="546.52" stroke="#1f2f78" stroke-width="1.6"/>
<text x="783.3" y="551.22" text-anchor="start" class="b">Q<tspan class="s" dy="3.4">e</tspan><tspan dy="-3.4"> = 8</tspan></text>
<line x1="758" y1="560.38" x2="777.8" y2="560.38" stroke="#45a4d6" stroke-width="1.4"/>
<text x="783.3" y="565.08" text-anchor="start" class="b">Q<tspan class="s" dy="3.4">e</tspan><tspan dy="-3.4"> = 10</tspan></text>
<line x1="758" y1="573.44" x2="779.5" y2="573.44" stroke="#1a1a1a" stroke-width="2" stroke-dasharray="4.2 2"/>
<text x="786" y="577.84" class="b"><tspan class="phi">φ</tspan><tspan class="s" dy="3">2</tspan><tspan dy="-3"> = 0</tspan></text>
<rect x="515" y="433.7" width="335" height="301.6" fill="none" stroke="#3c3c3e" stroke-width="1.55"/>
<path d="M515 735.3V738.9M682.5 735.3V738.9M850 735.3V738.9M511.4 735.3H515M511.4 433.7H515" stroke="#3c3c3e" stroke-width="1.5" fill="none"/>
<path d="M511.4 705.14H515M511.4 674.98H515M511.4 644.82H515M511.4 614.66H515M511.4 584.5H515M511.4 554.34H515M511.4 524.18H515M511.4 494.02H515M511.4 463.86H515" stroke="#9a9a9a" stroke-width="0.7" fill="none"/>
<text x="507.7" y="740.3" text-anchor="end" class="b tk">0</text>
<text x="507.7" y="710.14" text-anchor="end" class="b tk">0.2</text>
<text x="507.7" y="679.98" text-anchor="end" class="b tk">0.4</text>
<text x="507.7" y="649.82" text-anchor="end" class="b tk">0.6</text>
<text x="507.7" y="619.66" text-anchor="end" class="b tk">0.8</text>
<text x="507.7" y="589.5" text-anchor="end" class="b tk">1</text>
<text x="507.7" y="559.34" text-anchor="end" class="b tk">1.2</text>
<text x="507.7" y="529.18" text-anchor="end" class="b tk">1.4</text>
<text x="507.7" y="499.02" text-anchor="end" class="b tk">1.6</text>
<text x="507.7" y="468.86" text-anchor="end" class="b tk">1.8</text>
<text x="507.7" y="438.7" text-anchor="end" class="b tk">2</text>
<text x="514.8" y="753.4" text-anchor="middle" class="b tk">0.1</text>
<text x="682.3" y="753.4" text-anchor="middle" class="b tk">1</text>
<text x="849.8" y="753.4" text-anchor="middle" class="b tk">10</text>
<text x="682.1" y="772.6" text-anchor="middle" class="b ti">Normalized Frequency, f<tspan class="s" dy="3">n</tspan></text>
<text transform="translate(469.4 583.9) rotate(-90)" text-anchor="middle" class="b ti">Gain, M<tspan class="s" dy="3">g</tspan></text>
<text x="619.3" y="485.3" text-anchor="start" class="b">Q<tspan class="s" dy="3.4">e</tspan><tspan dy="-3.4"> = 0.1</tspan></text>
<line x1="614.6" y1="480.1" x2="603.1" y2="480.1" stroke="#231f20" stroke-width="1.4"/><polygon points="596.5,480.1 604.1,476.5 604.1,483.7" fill="#231f20"/>
<text x="573.6" y="596.9" text-anchor="start" class="b">Q<tspan class="s" dy="3.4">e</tspan><tspan dy="-3.4"> = 0.5</tspan></text>
<line x1="603" y1="600.3" x2="604.86" y2="620.13" stroke="#231f20" stroke-width="1.4"/><polygon points="605.47,626.7 601.18,619.47 608.35,618.79" fill="#231f20"/>
<text x="763.75" y="635.75" text-anchor="start" class="b">Q<tspan class="s" dy="3.4">e</tspan><tspan dy="-3.4"> = 0.1</tspan></text>
<line x1="795" y1="620.5" x2="807.37" y2="613.96" stroke="#231f20" stroke-width="1.4"/><polygon points="813.21,610.88 808.17,617.61 804.81,611.24" fill="#231f20"/>
<text x="735.75" y="698" text-anchor="start" class="b">Q<tspan class="s" dy="3.4">e</tspan><tspan dy="-3.4"> = 0.5</tspan></text>
<line x1="767.5" y1="683" x2="786.61" y2="675.39" stroke="#231f20" stroke-width="1.4"/><polygon points="792.74,672.95 787.01,679.11 784.35,672.42" fill="#231f20"/>
<text x="707" y="752" text-anchor="start" class="b">Q<tspan class="s" dy="3.4">e</tspan><tspan dy="-3.4"> = 10</tspan></text>
<line x1="722.5" y1="741.75" x2="719.89" y2="728.69" stroke="#231f20" stroke-width="1.4"/><polygon points="718.59,722.22 723.61,728.96 716.55,730.37" fill="#231f20"/>
<text x="661" y="804.6" text-anchor="middle" class="cap">d. L<tspan class="cs" dy="4">n</tspan><tspan dy="-4"> = 20.</tspan></text>
</g>
</svg>
</body>
</html>
